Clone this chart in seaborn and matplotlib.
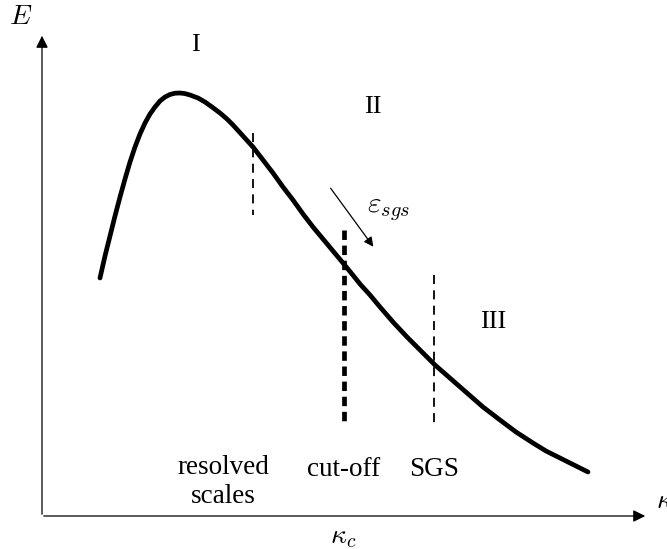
import matplotlib

matplotlib.use("Agg")

import matplotlib.pyplot as plt
import pandas as pd
import seaborn as sns


# spectrum curve (schematic units, y grows downwards)
wavenumber = [100, 105, 110, 115, 120, 125, 130, 135, 140, 145, 150, 155, 160, 165, 170,
              175, 180, 185, 190, 198, 205, 212, 220, 227, 233, 243, 253, 263, 273, 283,
              293, 303, 313, 323, 333, 343, 352, 360, 370, 380, 393, 407, 421, 435,
              451, 467, 483, 500, 516, 533, 546, 560, 574, 588]
energy = [278, 256, 236, 216, 197, 179, 162, 147, 134, 123, 114, 107, 101, 97, 94.5,
          93.2, 93, 93.6, 95, 98, 102, 107, 113, 119, 125, 136, 147, 160, 173, 187,
          200, 214, 227, 239, 251, 263, 274, 284, 295, 307, 322, 337, 351, 365,
          379, 393, 407, 420, 432, 443, 451, 458, 465, 472]

# vertical markers: x position, top, bottom, width
marker_x = [253, 344, 434]
marker_top = [133, 230, 275]
marker_bottom = [215, 425, 428]
marker_width = [1.3, 3.4, 1.3]

region_labels = ["I", "II", "III"]
region_x = [195, 373, 493]
region_y = [45, 107, 322]

band_labels = ["resolved\nscales", "cut-off", "SGS"]
band_x = [223, 344, 434]
band_y = [482, 469, 469]


def main():
    sns.set_style("white")
    plt.rcParams["font.family"] = ["Liberation Serif", "DejaVu Serif"]
    plt.rcParams["mathtext.fontset"] = "cm"
    plt.rcParams["text.color"] = "black"

    fig = plt.figure(figsize=(6.67, 5.49), dpi=100)
    ax = fig.add_axes([0, 0, 1, 1])
    ax.set_xlim(0, 667)
    ax.set_ylim(549, 0)
    ax.axis("off")

    df = pd.DataFrame({"k": wavenumber, "E": energy})
    sns.lineplot(data=df, x="k", y="E", sort=False, color="black", linewidth=3.4, ax=ax)

    # axes with arrow heads
    ax.annotate("", xy=(42, 33), xytext=(42, 517),
                arrowprops=dict(arrowstyle="-|>", color="black", lw=0.9, mutation_scale=18))
    ax.annotate("", xy=(648, 516), xytext=(41, 516),
                arrowprops=dict(arrowstyle="-|>", color="black", lw=0.9, mutation_scale=18))
    ax.text(21, 18, r"$E$", fontsize=20, ha="center", va="center", color="black")
    ax.text(656, 502, r"$\kappa$", fontsize=20, ha="left", va="center", color="black")
    ax.text(343, 537, r"$\kappa_c$", fontsize=20, ha="center", va="center", color="black")

    for x, top, bottom, w in zip(marker_x, marker_top, marker_bottom, marker_width):
        dash = (5, 3.5) if w < 2 else (2.0, 1.2)
        ax.plot([x, x], [top, bottom], color="black", linewidth=w, linestyle=(0, dash))

    for label, x, y in zip(region_labels, region_x, region_y):
        ax.text(x, y, label, fontsize=19, ha="center", va="center", color="black")

    for label, x, y in zip(band_labels, band_x, band_y):
        ax.text(x, y, label, fontsize=19.5, ha="center", va="center", color="black",
                linespacing=1.2)

    # energy transfer towards the subgrid scales
    ax.annotate("", xy=(375, 249), xytext=(329, 186),
                arrowprops=dict(arrowstyle="-|>", color="black", lw=0.9, mutation_scale=14))
    ax.text(389, 210, r"$\varepsilon_{sgs}$", fontsize=21, ha="center", va="center",
            color="black")

    fig.savefig("out.png", dpi=100)
    plt.close(fig)


if __name__ == "__main__":
    main()
